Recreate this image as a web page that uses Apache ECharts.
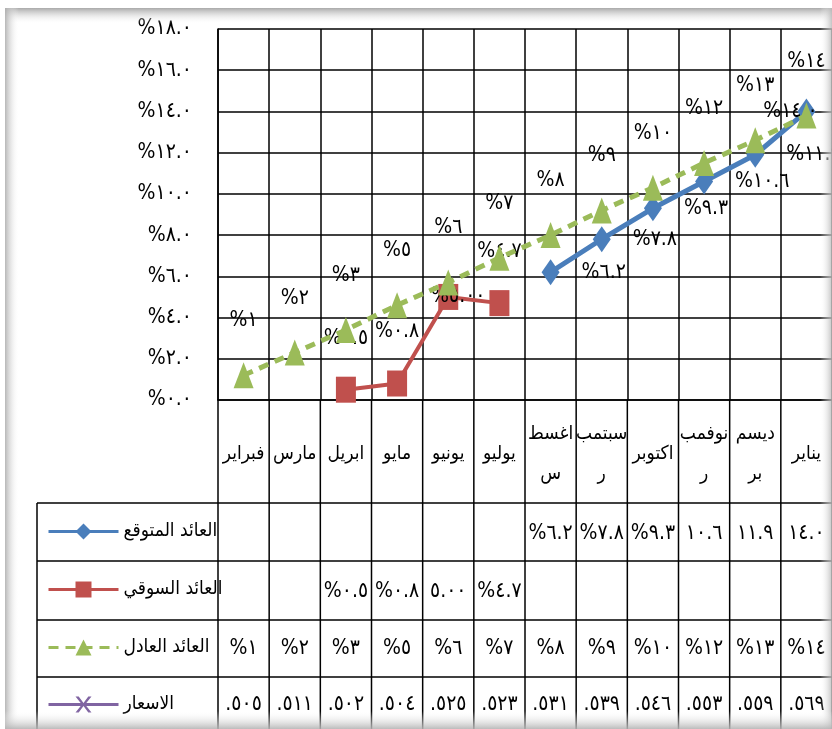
<!DOCTYPE html>
<html>
<head>
<meta charset="utf-8">
<script src="https://cdn.jsdelivr.net/npm/echarts@6/dist/echarts.min.js"></script>
<style>html,body{margin:0;padding:0;background:#fff}#c{width:832px;height:729px}</style>
</head>
<body>
<div id="c"></div>
<script>
// ---------- data ----------
const months = ['فبراير','مارس','ابريل','مايو','يونيو','يوليو','اغسطس','سبتمبر','اكتوبر','نوفمبر','ديسمبر','يناير'];
const monthTickLabels = ['فبراير','مارس','ابريل','مايو','يونيو','يوليو','اغسط\nس','سبتمب\nر','اكتوبر','نوفمب\nر','ديسم\nبر','يناير'];
const seriesNames = ['العائد المتوقع','العائد السوقي','العائد العادل','الاسعار'];
const expectedReturn = [null,null,null,null,null,null,6.2,7.8,9.3,10.6,11.9,14.0];
const marketReturn   = [null,null,0.5,0.8,5.00,4.7,null,null,null,null,null,null];
const marketDecimals = [1,1,1,1,2,1,1,1,1,1,1,1];
const fairReturn     = [1.2,2.3,3.4,4.6,5.7,6.9,8.0,9.2,10.3,11.5,12.6,13.8];
const prices         = [505,511,502,504,525,523,531,539,546,553,559,569];
const yMin = 0, yMax = 18, yStep = 2;

// ---------- helpers ----------
const FONT = '"DejaVu Sans Condensed","DejaVu Sans",sans-serif';
const FS = 21;      // numbers
const FS_AR = 19;   // Arabic words
const ar = s => String(s).replace(/\d/g, d => '٠١٢٣٤٥٦٧٨٩'[d]);
const pct = (v, d) => '%' + ar(v.toFixed(d));
// data-table cell: wide numbers lose their % sign (clipped like the original)
const cell = (v, d) => { const s = pct(v, d); return s.length > 4 ? s.slice(1) : s; };

const BLUE = '#4A7EBB', RED = '#C0504D', GREEN = '#9BBB59', PURPLE = '#8064A2';
const X_SYMBOL = 'path://M0,0 L2,0 L5,4 L8,0 L10,0 L6,5 L10,10 L8,10 L5,6 L2,10 L0,10 L4,5 Z';

const chart = echarts.init(document.getElementById('c'));
const labelBase = { show: true, fontSize: FS, fontFamily: FONT, color: '#000' };

// one legend block per data-table row
const legendRowMid = [531, 589, 647, 704];
const legends = seriesNames.map((n, i) => ({
  orient: 'vertical', left: 42, top: legendRowMid[i] - 14,
  itemWidth: 70, itemHeight: 20, selectedMode: false,
  lineStyle: { width: 3 },
  textStyle: { fontSize: FS_AR, fontFamily: FONT, color: '#000' },
  data: [n]
}));

chart.setOption({
  animation: false,
  backgroundColor: '#fff',
  grid: { left: 218, top: 29, width: 626, height: 371 },
  legend: legends,
  xAxis: {
    type: 'category', data: months,
    axisTick: { show: false },
    axisLine: { lineStyle: { color: '#000', width: 1.5 } },
    splitLine: { show: true, lineStyle: { color: '#000', width: 1.5 } },
    axisLabel: {
      interval: 0, margin: 54, verticalAlign: 'middle', lineHeight: 40,
      fontSize: FS_AR, fontFamily: FONT, color: '#000',
      formatter: (v, i) => monthTickLabels[i]
    }
  },
  yAxis: {
    type: 'value', min: yMin, max: yMax, interval: yStep,
    axisLine: { show: true, lineStyle: { color: '#000', width: 1.5 } },
    axisTick: { show: false },
    splitLine: { lineStyle: { color: '#000', width: 1.5 } },
    axisLabel: { margin: 26, fontSize: FS, fontFamily: FONT, color: '#000', formatter: v => pct(v, 1) }
  },
  series: [
    {
      name: seriesNames[0], type: 'line', z: 3,
      data: expectedReturn.map((v, i) => i === expectedReturn.length - 1 ? { value: v, label: { position: 'inside', offset: [-16, 0] } } : v),
      symbol: 'diamond', symbolSize: [18, 26],
      lineStyle: { color: BLUE, width: 5 }, itemStyle: { color: BLUE },
      label: Object.assign({}, labelBase, { position: 'right', distance: 22, formatter: p => pct(p.value, 1) })
    },
    {
      name: seriesNames[1], type: 'line', z: 3,
      data: marketReturn.map((v, i) => i === 4 ? { value: v, label: { position: 'inside', offset: [10, 0] } } : v),
      symbol: 'rect', symbolSize: [20, 26],
      lineStyle: { color: RED, width: 4 }, itemStyle: { color: RED },
      label: Object.assign({}, labelBase, { position: 'top', distance: 28, formatter: p => pct(p.value, marketDecimals[p.dataIndex]) })
    },
    {
      name: seriesNames[2], type: 'line', z: 4,
      data: fairReturn,
      symbol: 'triangle', symbolSize: [20, 26],
      lineStyle: { color: GREEN, width: 5, type: [10, 7] }, itemStyle: { color: GREEN },
      label: Object.assign({}, labelBase, { position: 'top', distance: 31, formatter: p => pct(p.value, 0) })
    },
    {
      name: seriesNames[3], type: 'line', z: 2,
      data: prices, clip: true,
      symbol: X_SYMBOL, symbolSize: [14, 18],
      lineStyle: { color: PURPLE, width: 3 }, itemStyle: { color: PURPLE }
    }
  ]
});

// ---------- data table + frame (built from the category axis) ----------
const c0 = chart.convertToPixel({ xAxisIndex: 0 }, 0);
const c1 = chart.convertToPixel({ xAxisIndex: 0 }, 1);
const bw = c1 - c0;
const xStart = c0 - bw / 2;
const yZero = chart.convertToPixel({ yAxisIndex: 0 }, yMin);
const tableLeft = 37, H = 729, W = 832;
const rowLines = [503, 561, 620, 677];
const rowMid = [534, 592, 649, 705];
const LINE = { stroke: '#000', lineWidth: 1.5 };

const els = [];
for (let i = 0; i <= months.length; i++) {
  const x = xStart + i * bw;
  els.push({ type: 'line', shape: { x1: x, y1: yZero, x2: x, y2: H }, style: LINE, silent: true });
}
els.push({ type: 'line', shape: { x1: tableLeft, y1: rowLines[0], x2: tableLeft, y2: H }, style: LINE, silent: true });
rowLines.forEach(y => els.push({ type: 'line', shape: { x1: tableLeft, y1: y, x2: W, y2: y }, style: LINE, silent: true }));

const rows = [
  expectedReturn.map(v => v == null ? '' : cell(v, 1)),
  marketReturn.map((v, i) => v == null ? '' : cell(v, marketDecimals[i])),
  fairReturn.map(v => cell(v, 0)),
  prices.map(v => '.' + ar(v))
];
rows.forEach((r, ri) => r.forEach((t, i) => {
  if (!t) return;
  els.push({
    type: 'text', silent: true,
    style: { x: c0 + i * bw, y: rowMid[ri], text: t, align: 'center', verticalAlign: 'middle',
             fontSize: FS, fontFamily: FONT, fill: '#000' }
  });
}));

// frame shadow
const grad = (x, y, x2, y2, a, b) => ({ type: 'linear', x, y, x2, y2, colorStops: [{ offset: 0, color: a }, { offset: 1, color: b }] });
const g1 = 'rgba(255,255,255,0)';
els.push({ type: 'rect', z: 100, silent: true, shape: { x: 5, y: 8, width: W - 5, height: 16 }, style: { fill: grad(0, 0, 0, 1, 'rgba(160,160,160,0.9)', g1) } });
els.push({ type: 'rect', z: 100, silent: true, shape: { x: 5, y: 8, width: 14, height: H - 8 }, style: { fill: grad(0, 0, 1, 0, 'rgba(175,175,175,0.9)', g1) } });
els.push({ type: 'rect', z: 100, silent: true, shape: { x: W - 12, y: 8, width: 12, height: H - 8 }, style: { fill: grad(1, 0, 0, 0, 'rgba(185,185,185,0.85)', g1) } });
els.push({ type: 'rect', z: 100, silent: true, shape: { x: 5, y: H - 18, width: W - 5, height: 18 }, style: { fill: grad(0, 1, 0, 0, 'rgba(180,180,180,0.9)', g1) } });

chart.setOption({ graphic: { elements: els } });
</script>
</body>
</html>
